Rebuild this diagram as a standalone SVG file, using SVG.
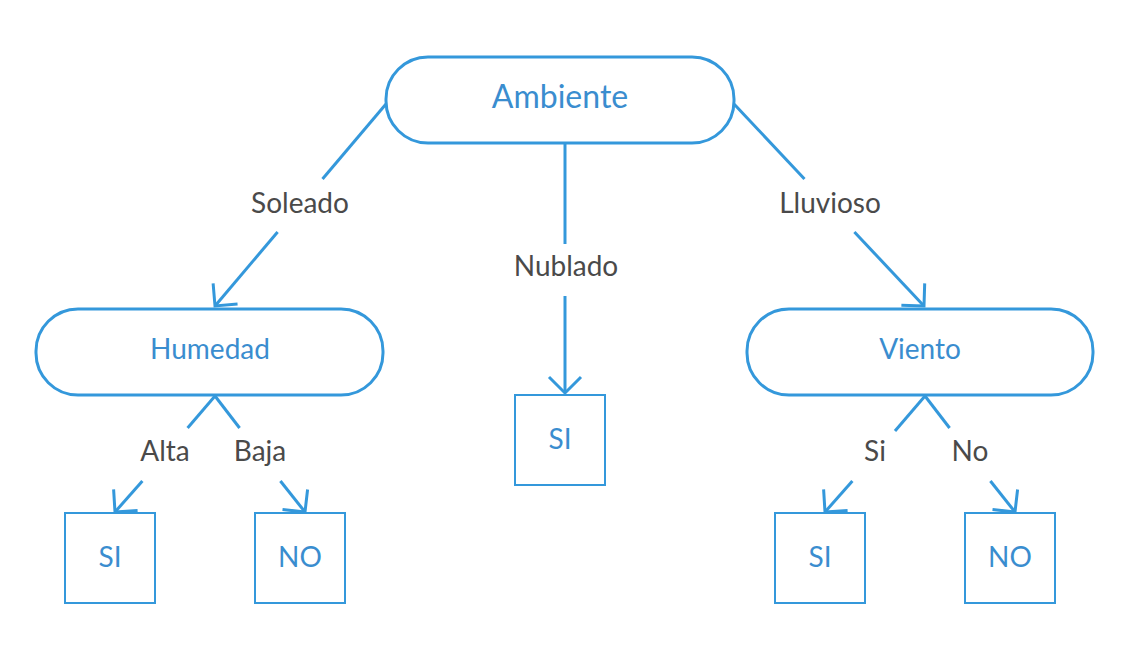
<svg xmlns="http://www.w3.org/2000/svg" width="1140" height="662" viewBox="0 0 1140 662">
<style>
.node{fill:#fff;stroke:#3498db;stroke-width:3}
.box{fill:#fff;stroke:#3498db;stroke-width:2}
.nt{font-family:Lato,"Liberation Sans",sans-serif;fill:#3a8dcf;text-anchor:middle;font-size:28px}
.lbl{font-family:Lato,"Liberation Sans",sans-serif;fill:#4a4a4a;text-anchor:middle;font-size:28px}
.edge{stroke:#3498db;stroke-width:3;fill:none}
.arr{stroke:#3498db;stroke-width:3;fill:none}
</style>
<defs>
<marker id="ah" markerUnits="userSpaceOnUse" orient="auto" refX="0" refY="0" markerWidth="40" markerHeight="40" overflow="visible">
<path class="arr" d="M-16,-16 L0,0 L-16,16"/>
</marker>
</defs>
<rect width="1140" height="662" fill="#fff"/>
<g id="connectors">
<path class="edge" d="M386,104 L322.5,179"/>
<path class="edge" d="M277.6,232 L215,306" marker-end="url(#ah)"/>
<path class="edge" d="M565,143 L565,244"/>
<path class="edge" d="M565,296 L565,393" marker-end="url(#ah)"/>
<path class="edge" d="M734,104 L804.5,179"/>
<path class="edge" d="M854.4,232 L924,306" marker-end="url(#ah)"/>
<path class="edge" d="M215,396 L187.6,428"/>
<path class="edge" d="M142.4,481 L115,512" marker-end="url(#ah)"/>
<path class="edge" d="M215,396 L239.6,428"/>
<path class="edge" d="M280.4,481 L305,512" marker-end="url(#ah)"/>
<path class="edge" d="M925,396 L895,431"/>
<path class="edge" d="M852.4,481 L825,512" marker-end="url(#ah)"/>
<path class="edge" d="M925,396 L949.6,428"/>
<path class="edge" d="M990.4,481 L1015,512" marker-end="url(#ah)"/>
<text class="lbl" x="300" y="213">Soleado</text>
<text class="lbl" x="566" y="276">Nublado</text>
<text class="lbl" x="830" y="213">Lluvioso</text>
<text class="lbl" x="165" y="461">Alta</text>
<text class="lbl" x="260" y="461">Baja</text>
<text class="lbl" x="875" y="461">Si</text>
<text class="lbl" x="970" y="461">No</text>
</g>
<g id="ambiente">
<rect class="node" x="386" y="57" width="348" height="86" rx="42" ry="42"/>
<text class="nt" x="560" y="108" style="font-size:32px">Ambiente</text>
</g>
<g id="humedad">
<rect class="node" x="36" y="309" width="347" height="86" rx="42" ry="42"/>
<text class="nt" x="210" y="359">Humedad</text>
</g>
<g id="viento">
<rect class="node" x="747" y="309" width="346" height="86" rx="42" ry="42"/>
<text class="nt" x="920" y="359">Viento</text>
</g>
<g id="si-humedad">
<rect class="box" x="65" y="513" width="90" height="90"/>
<text class="nt" x="110" y="567">SI</text>
</g>
<g id="no-humedad">
<rect class="box" x="255" y="513" width="90" height="90"/>
<text class="nt" x="300" y="567">NO</text>
</g>
<g id="si-nublado">
<rect class="box" x="515" y="395" width="90" height="90"/>
<text class="nt" x="560" y="449">SI</text>
</g>
<g id="si-viento">
<rect class="box" x="775" y="513" width="90" height="90"/>
<text class="nt" x="820" y="567">SI</text>
</g>
<g id="no-viento">
<rect class="box" x="965" y="513" width="90" height="90"/>
<text class="nt" x="1010" y="567">NO</text>
</g>
</svg>
